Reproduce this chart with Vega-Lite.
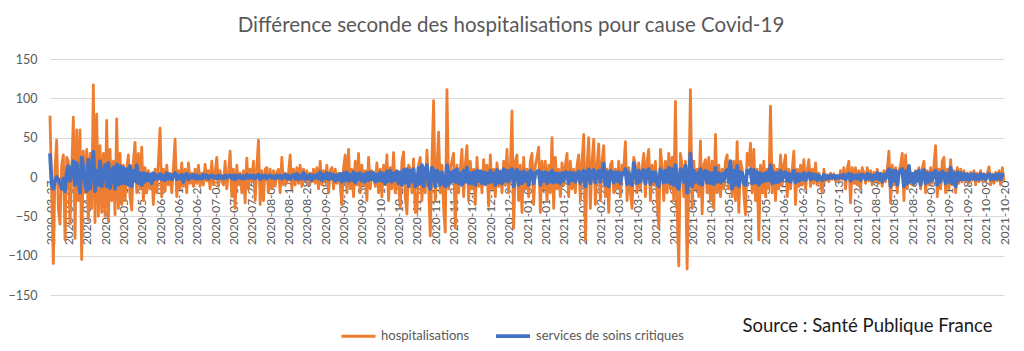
{
"$schema": "https://vega.github.io/schema/vega-lite/v6.json",
"width": 954, "height": 236,
"autosize": {"type": "none"},
"padding": {"left": 50, "top": 59, "right": 20, "bottom": 56},
"background": "white",
"config": {"view": {"stroke": null}, "font": "Lato"},
"title": {"text": "Différence seconde des hospitalisations pour cause Covid-19", "fontSize": 20.5, "font": "Lato", "fontWeight": "normal", "color": "#595959", "anchor": "middle", "frame": "group", "dx": -16, "offset": 17},
"data": {"values": [
{"d":"2020-03-27","h":78,"s":30},{"d":"2020-03-28","h":-20,"s":-10},{"d":"2020-03-29","h":-110,"s":-15},{"d":"2020-03-30","h":10,"s":-5},{"d":"2020-03-31","h":47,"s":0},{"d":"2020-04-01","h":-40,"s":-3},{"d":"2020-04-02","h":-60,"s":-8},{"d":"2020-04-03","h":15,"s":-15},{"d":"2020-04-04","h":28,"s":-2},{"d":"2020-04-05","h":-80,"s":-18},{"d":"2020-04-06","h":25,"s":5},
{"d":"2020-04-07","h":20,"s":14},{"d":"2020-04-08","h":-60,"s":-5},{"d":"2020-04-09","h":5,"s":8},{"d":"2020-04-10","h":76,"s":20},{"d":"2020-04-11","h":-78,"s":-10},{"d":"2020-04-12","h":60,"s":18},{"d":"2020-04-13","h":-30,"s":-5},{"d":"2020-04-14","h":60,"s":-20},{"d":"2020-04-15","h":-105,"s":25},{"d":"2020-04-16","h":33,"s":12},{"d":"2020-04-17","h":-20,"s":-8},
{"d":"2020-04-18","h":35,"s":-18},{"d":"2020-04-19","h":-55,"s":22},{"d":"2020-04-20","h":30,"s":-15},{"d":"2020-04-21","h":-40,"s":10},{"d":"2020-04-22","h":117,"s":32},{"d":"2020-04-23","h":-58,"s":-18},{"d":"2020-04-24","h":80,"s":8},{"d":"2020-04-25","h":-50,"s":-10},{"d":"2020-04-26","h":40,"s":20},{"d":"2020-04-27","h":-45,"s":-12},{"d":"2020-04-28","h":30,"s":5},
{"d":"2020-04-29","h":-50,"s":15},{"d":"2020-04-30","h":72,"s":-12},{"d":"2020-05-01","h":-56,"s":18},{"d":"2020-05-02","h":35,"s":-14},{"d":"2020-05-03","h":-30,"s":5},{"d":"2020-05-04","h":20,"s":12},{"d":"2020-05-05","h":-48,"s":-15},{"d":"2020-05-06","h":74,"s":16},{"d":"2020-05-07","h":-40,"s":-10},{"d":"2020-05-08","h":30,"s":14},{"d":"2020-05-09","h":-35,"s":-8},
{"d":"2020-05-10","h":15,"s":12},{"d":"2020-05-11","h":-30,"s":-8},{"d":"2020-05-12","h":10,"s":10},{"d":"2020-05-13","h":28,"s":-10},{"d":"2020-05-14","h":-25,"s":14},{"d":"2020-05-15","h":-42,"s":-12},{"d":"2020-05-16","h":20,"s":8},{"d":"2020-05-17","h":44,"s":-5},{"d":"2020-05-18","h":-20,"s":15},{"d":"2020-05-19","h":30,"s":-8},{"d":"2020-05-20","h":-15,"s":5},
{"d":"2020-05-21","h":38,"s":-10},{"d":"2020-05-22","h":-30,"s":5},{"d":"2020-05-23","h":12,"s":-6},{"d":"2020-05-24","h":-20,"s":4},{"d":"2020-05-25","h":8,"s":-4},{"d":"2020-05-26","h":-15,"s":3},{"d":"2020-05-27","h":5,"s":-8},{"d":"2020-05-28","h":-35,"s":5},{"d":"2020-05-29","h":10,"s":-3},{"d":"2020-05-30","h":-20,"s":2},{"d":"2020-05-31","h":20,"s":-2},
{"d":"2020-06-01","h":62,"s":4},{"d":"2020-06-02","h":-25,"s":-3},{"d":"2020-06-03","h":10,"s":2},{"d":"2020-06-04","h":-18,"s":-4},{"d":"2020-06-05","h":15,"s":5},{"d":"2020-06-06","h":-10,"s":-2},{"d":"2020-06-07","h":5,"s":3},{"d":"2020-06-08","h":-20,"s":-3},{"d":"2020-06-09","h":12,"s":2},{"d":"2020-06-10","h":48,"s":5},{"d":"2020-06-11","h":-25,"s":-3},
{"d":"2020-06-12","h":8,"s":2},{"d":"2020-06-13","h":-15,"s":-2},{"d":"2020-06-14","h":18,"s":3},{"d":"2020-06-15","h":-12,"s":-6},{"d":"2020-06-16","h":10,"s":2},{"d":"2020-06-17","h":-20,"s":4},{"d":"2020-06-18","h":18,"s":-3},{"d":"2020-06-19","h":-8,"s":2},{"d":"2020-06-20","h":5,"s":-1},{"d":"2020-06-21","h":-12,"s":3},{"d":"2020-06-22","h":10,"s":-2},
{"d":"2020-06-23","h":-8,"s":2},{"d":"2020-06-24","h":15,"s":-2},{"d":"2020-06-25","h":-12,"s":1},{"d":"2020-06-26","h":5,"s":-2},{"d":"2020-06-27","h":-10,"s":3},{"d":"2020-06-28","h":16,"s":-1},{"d":"2020-06-29","h":-5,"s":2},{"d":"2020-06-30","h":8,"s":-2},{"d":"2020-07-01","h":-15,"s":1},{"d":"2020-07-02","h":20,"s":2},{"d":"2020-07-03","h":-10,"s":-1},
{"d":"2020-07-04","h":5,"s":1},{"d":"2020-07-05","h":25,"s":-2},{"d":"2020-07-06","h":-12,"s":2},{"d":"2020-07-07","h":8,"s":-1},{"d":"2020-07-08","h":-5,"s":1},{"d":"2020-07-09","h":-10,"s":-2},{"d":"2020-07-10","h":20,"s":2},{"d":"2020-07-11","h":-15,"s":-1},{"d":"2020-07-12","h":5,"s":1},{"d":"2020-07-13","h":33,"s":2},{"d":"2020-07-14","h":-25,"s":-2},
{"d":"2020-07-15","h":10,"s":2},{"d":"2020-07-16","h":-40,"s":-3},{"d":"2020-07-17","h":15,"s":2},{"d":"2020-07-18","h":-10,"s":-1},{"d":"2020-07-19","h":5,"s":2},{"d":"2020-07-20","h":-20,"s":-2},{"d":"2020-07-21","h":8,"s":1},{"d":"2020-07-22","h":-33,"s":-2},{"d":"2020-07-23","h":24,"s":3},{"d":"2020-07-24","h":-15,"s":-1},{"d":"2020-07-25","h":10,"s":2},
{"d":"2020-07-26","h":-5,"s":-1},{"d":"2020-07-27","h":20,"s":2},{"d":"2020-07-28","h":-30,"s":-2},{"d":"2020-07-29","h":12,"s":1},{"d":"2020-07-30","h":47,"s":3},{"d":"2020-07-31","h":-35,"s":-3},{"d":"2020-08-01","h":8,"s":2},{"d":"2020-08-02","h":-30,"s":-1},{"d":"2020-08-03","h":10,"s":2},{"d":"2020-08-04","h":12,"s":-2},{"d":"2020-08-05","h":-20,"s":1},
{"d":"2020-08-06","h":10,"s":2},{"d":"2020-08-07","h":-15,"s":-1},{"d":"2020-08-08","h":8,"s":1},{"d":"2020-08-09","h":-12,"s":-2},{"d":"2020-08-10","h":6,"s":2},{"d":"2020-08-11","h":10,"s":-1},{"d":"2020-08-12","h":-20,"s":2},{"d":"2020-08-13","h":25,"s":-2},{"d":"2020-08-14","h":-10,"s":1},{"d":"2020-08-15","h":5,"s":3},{"d":"2020-08-16","h":-8,"s":-2},
{"d":"2020-08-17","h":5,"s":2},{"d":"2020-08-18","h":28,"s":-3},{"d":"2020-08-19","h":-15,"s":1},{"d":"2020-08-20","h":10,"s":3},{"d":"2020-08-21","h":-10,"s":-2},{"d":"2020-08-22","h":12,"s":4},{"d":"2020-08-23","h":-8,"s":-3},{"d":"2020-08-24","h":15,"s":2},{"d":"2020-08-25","h":-12,"s":-2},{"d":"2020-08-26","h":10,"s":5},{"d":"2020-08-27","h":-5,"s":-3},
{"d":"2020-08-28","h":8,"s":2},{"d":"2020-08-29","h":-10,"s":-2},{"d":"2020-08-30","h":5,"s":3},{"d":"2020-08-31","h":-6,"s":-4},{"d":"2020-09-01","h":10,"s":2},{"d":"2020-09-02","h":-8,"s":-1},{"d":"2020-09-03","h":12,"s":3},{"d":"2020-09-04","h":-15,"s":-2},{"d":"2020-09-05","h":20,"s":6},{"d":"2020-09-06","h":-10,"s":-4},{"d":"2020-09-07","h":8,"s":3},
{"d":"2020-09-08","h":-5,"s":-2},{"d":"2020-09-09","h":15,"s":5},{"d":"2020-09-10","h":-20,"s":-3},{"d":"2020-09-11","h":8,"s":4},{"d":"2020-09-12","h":12,"s":-2},{"d":"2020-09-13","h":-15,"s":3},{"d":"2020-09-14","h":10,"s":-5},{"d":"2020-09-15","h":-8,"s":2},{"d":"2020-09-16","h":5,"s":-3},{"d":"2020-09-17","h":-10,"s":4},{"d":"2020-09-18","h":-35,"s":-6},
{"d":"2020-09-19","h":12,"s":5},{"d":"2020-09-20","h":28,"s":-4},{"d":"2020-09-21","h":-20,"s":6},{"d":"2020-09-22","h":35,"s":-5},{"d":"2020-09-23","h":-15,"s":3},{"d":"2020-09-24","h":10,"s":-4},{"d":"2020-09-25","h":-25,"s":6},{"d":"2020-09-26","h":20,"s":-7},{"d":"2020-09-27","h":-10,"s":4},{"d":"2020-09-28","h":30,"s":-3},{"d":"2020-09-29","h":-20,"s":5},
{"d":"2020-09-30","h":15,"s":-5},{"d":"2020-10-01","h":-10,"s":3},{"d":"2020-10-02","h":8,"s":-6},{"d":"2020-10-03","h":-30,"s":5},{"d":"2020-10-04","h":25,"s":-4},{"d":"2020-10-05","h":-15,"s":6},{"d":"2020-10-06","h":8,"s":-3},{"d":"2020-10-07","h":5,"s":5},{"d":"2020-10-08","h":-12,"s":-6},{"d":"2020-10-09","h":18,"s":3},{"d":"2020-10-10","h":-20,"s":-4},
{"d":"2020-10-11","h":10,"s":6},{"d":"2020-10-12","h":-25,"s":-5},{"d":"2020-10-13","h":15,"s":4},{"d":"2020-10-14","h":-10,"s":-8},{"d":"2020-10-15","h":28,"s":7},{"d":"2020-10-16","h":-30,"s":-5},{"d":"2020-10-17","h":12,"s":8},{"d":"2020-10-18","h":-15,"s":-6},{"d":"2020-10-19","h":31,"s":5},{"d":"2020-10-20","h":-20,"s":-4},{"d":"2020-10-21","h":8,"s":7},
{"d":"2020-10-22","h":-10,"s":-8},{"d":"2020-10-23","h":-38,"s":6},{"d":"2020-10-24","h":20,"s":-10},{"d":"2020-10-25","h":32,"s":9},{"d":"2020-10-26","h":-25,"s":-7},{"d":"2020-10-27","h":-47,"s":10},{"d":"2020-10-28","h":15,"s":-12},{"d":"2020-10-29","h":10,"s":8},{"d":"2020-10-30","h":-20,"s":-6},{"d":"2020-10-31","h":23,"s":10},{"d":"2020-11-01","h":-45,"s":-12},
{"d":"2020-11-02","h":-45,"s":-10},{"d":"2020-11-03","h":15,"s":12},{"d":"2020-11-04","h":25,"s":-8},{"d":"2020-11-05","h":-30,"s":15},{"d":"2020-11-06","h":12,"s":-12},{"d":"2020-11-07","h":-20,"s":10},{"d":"2020-11-08","h":34,"s":15},{"d":"2020-11-09","h":-10,"s":-10},{"d":"2020-11-10","h":-75,"s":-15},{"d":"2020-11-11","h":20,"s":12},{"d":"2020-11-12","h":97,"s":8},
{"d":"2020-11-13","h":-30,"s":-12},{"d":"2020-11-14","h":10,"s":8},{"d":"2020-11-15","h":57,"s":5},{"d":"2020-11-16","h":-20,"s":-10},{"d":"2020-11-17","h":15,"s":6},{"d":"2020-11-18","h":-40,"s":-8},{"d":"2020-11-19","h":-70,"s":-12},{"d":"2020-11-20","h":111,"s":15},{"d":"2020-11-21","h":-15,"s":-10},{"d":"2020-11-22","h":10,"s":6},{"d":"2020-11-23","h":20,"s":-5},
{"d":"2020-11-24","h":30,"s":8},{"d":"2020-11-25","h":-65,"s":-6},{"d":"2020-11-26","h":15,"s":10},{"d":"2020-11-27","h":-20,"s":-8},{"d":"2020-11-28","h":10,"s":5},{"d":"2020-11-29","h":35,"s":-10},{"d":"2020-11-30","h":-25,"s":8},{"d":"2020-12-01","h":15,"s":-6},{"d":"2020-12-02","h":40,"s":12},{"d":"2020-12-03","h":-30,"s":-8},{"d":"2020-12-04","h":20,"s":5},
{"d":"2020-12-05","h":-15,"s":-8},{"d":"2020-12-06","h":10,"s":6},{"d":"2020-12-07","h":-35,"s":-10},{"d":"2020-12-08","h":25,"s":8},{"d":"2020-12-09","h":-12,"s":-5},{"d":"2020-12-10","h":8,"s":7},{"d":"2020-12-11","h":-20,"s":-8},{"d":"2020-12-12","h":22,"s":6},{"d":"2020-12-13","h":-10,"s":-9},{"d":"2020-12-14","h":15,"s":5},{"d":"2020-12-15","h":-37,"s":-7},
{"d":"2020-12-16","h":28,"s":8},{"d":"2020-12-17","h":-15,"s":-6},{"d":"2020-12-18","h":10,"s":5},{"d":"2020-12-19","h":-25,"s":-10},{"d":"2020-12-20","h":18,"s":9},{"d":"2020-12-21","h":-12,"s":-7},{"d":"2020-12-22","h":8,"s":6},{"d":"2020-12-23","h":-20,"s":-8},{"d":"2020-12-24","h":20,"s":10},{"d":"2020-12-25","h":-10,"s":-5},{"d":"2020-12-26","h":35,"s":8},
{"d":"2020-12-27","h":-20,"s":-6},{"d":"2020-12-28","h":10,"s":8},{"d":"2020-12-29","h":84,"s":10},{"d":"2020-12-30","h":-65,"s":-12},{"d":"2020-12-31","h":20,"s":7},{"d":"2021-01-01","h":28,"s":9},{"d":"2021-01-02","h":-30,"s":-10},{"d":"2021-01-03","h":15,"s":6},{"d":"2021-01-04","h":-45,"s":-8},{"d":"2021-01-05","h":25,"s":7},{"d":"2021-01-06","h":-15,"s":-5},
{"d":"2021-01-07","h":10,"s":5},{"d":"2021-01-08","h":-25,"s":-10},{"d":"2021-01-09","h":20,"s":8},{"d":"2021-01-10","h":30,"s":6},{"d":"2021-01-11","h":-35,"s":-8},{"d":"2021-01-12","h":15,"s":5},{"d":"2021-01-13","h":25,"s":6},{"d":"2021-01-14","h":38,"s":8},{"d":"2021-01-15","h":-45,"s":-10},{"d":"2021-01-16","h":20,"s":6},{"d":"2021-01-17","h":-15,"s":-5},
{"d":"2021-01-18","h":20,"s":6},{"d":"2021-01-19","h":-30,"s":-8},{"d":"2021-01-20","h":15,"s":5},{"d":"2021-01-21","h":-20,"s":-6},{"d":"2021-01-22","h":50,"s":8},{"d":"2021-01-23","h":-40,"s":-7},{"d":"2021-01-24","h":25,"s":5},{"d":"2021-01-25","h":-15,"s":-6},{"d":"2021-01-26","h":10,"s":4},{"d":"2021-01-27","h":-25,"s":-8},{"d":"2021-01-28","h":18,"s":5},
{"d":"2021-01-29","h":-10,"s":-5},{"d":"2021-01-30","h":15,"s":6},{"d":"2021-01-31","h":30,"s":5},{"d":"2021-02-01","h":-25,"s":-8},{"d":"2021-02-02","h":20,"s":6},{"d":"2021-02-03","h":-15,"s":-4},{"d":"2021-02-04","h":10,"s":5},{"d":"2021-02-05","h":-20,"s":-6},{"d":"2021-02-06","h":15,"s":4},{"d":"2021-02-07","h":28,"s":7},{"d":"2021-02-08","h":-30,"s":-8},
{"d":"2021-02-09","h":20,"s":5},{"d":"2021-02-10","h":54,"s":8},{"d":"2021-02-11","h":-80,"s":-12},{"d":"2021-02-12","h":15,"s":6},{"d":"2021-02-13","h":50,"s":10},{"d":"2021-02-14","h":-40,"s":-8},{"d":"2021-02-15","h":20,"s":6},{"d":"2021-02-16","h":48,"s":9},{"d":"2021-02-17","h":-35,"s":-7},{"d":"2021-02-18","h":15,"s":5},{"d":"2021-02-19","h":42,"s":8},
{"d":"2021-02-20","h":-30,"s":-6},{"d":"2021-02-21","h":20,"s":8},{"d":"2021-02-22","h":40,"s":17},{"d":"2021-02-23","h":-25,"s":-10},{"d":"2021-02-24","h":10,"s":6},{"d":"2021-02-25","h":-45,"s":-12},{"d":"2021-02-26","h":15,"s":8},{"d":"2021-02-27","h":20,"s":5},{"d":"2021-02-28","h":-20,"s":-7},{"d":"2021-03-01","h":10,"s":6},{"d":"2021-03-02","h":-15,"s":-5},
{"d":"2021-03-03","h":20,"s":6},{"d":"2021-03-04","h":-25,"s":-8},{"d":"2021-03-05","h":15,"s":5},{"d":"2021-03-06","h":10,"s":4},{"d":"2021-03-07","h":45,"s":10},{"d":"2021-03-08","h":-30,"s":-9},{"d":"2021-03-09","h":12,"s":6},{"d":"2021-03-10","h":-20,"s":-8},{"d":"2021-03-11","h":-40,"s":-10},{"d":"2021-03-12","h":25,"s":18},{"d":"2021-03-13","h":15,"s":5},
{"d":"2021-03-14","h":-20,"s":-8},{"d":"2021-03-15","h":18,"s":8},{"d":"2021-03-16","h":-15,"s":-6},{"d":"2021-03-17","h":10,"s":5},{"d":"2021-03-18","h":30,"s":9},{"d":"2021-03-19","h":-25,"s":-8},{"d":"2021-03-20","h":20,"s":7},{"d":"2021-03-21","h":35,"s":10},{"d":"2021-03-22","h":-30,"s":-9},{"d":"2021-03-23","h":15,"s":6},{"d":"2021-03-24","h":-10,"s":-5},
{"d":"2021-03-25","h":20,"s":6},{"d":"2021-03-26","h":-25,"s":-8},{"d":"2021-03-27","h":-65,"s":-12},{"d":"2021-03-28","h":35,"s":10},{"d":"2021-03-29","h":15,"s":5},{"d":"2021-03-30","h":-30,"s":-7},{"d":"2021-03-31","h":20,"s":8},{"d":"2021-04-01","h":-20,"s":-6},{"d":"2021-04-02","h":30,"s":12},{"d":"2021-04-03","h":-15,"s":-8},{"d":"2021-04-04","h":25,"s":10},
{"d":"2021-04-05","h":-30,"s":-10},{"d":"2021-04-06","h":96,"s":15},{"d":"2021-04-07","h":-40,"s":-12},{"d":"2021-04-08","h":-113,"s":-15},{"d":"2021-04-09","h":30,"s":10},{"d":"2021-04-10","h":15,"s":8},{"d":"2021-04-11","h":-25,"s":-6},{"d":"2021-04-12","h":20,"s":14},{"d":"2021-04-13","h":-117,"s":-20},{"d":"2021-04-14","h":-10,"s":-5},{"d":"2021-04-15","h":111,"s":30},
{"d":"2021-04-16","h":-40,"s":-12},{"d":"2021-04-17","h":20,"s":8},{"d":"2021-04-18","h":-15,"s":-6},{"d":"2021-04-19","h":10,"s":5},{"d":"2021-04-20","h":-25,"s":-8},{"d":"2021-04-21","h":46,"s":10},{"d":"2021-04-22","h":-47,"s":-10},{"d":"2021-04-23","h":15,"s":6},{"d":"2021-04-24","h":22,"s":8},{"d":"2021-04-25","h":-20,"s":-7},{"d":"2021-04-26","h":25,"s":6},
{"d":"2021-04-27","h":-30,"s":-8},{"d":"2021-04-28","h":20,"s":5},{"d":"2021-04-29","h":-40,"s":-9},{"d":"2021-04-30","h":54,"s":12},{"d":"2021-05-01","h":-20,"s":-6},{"d":"2021-05-02","h":15,"s":5},{"d":"2021-05-03","h":-25,"s":-7},{"d":"2021-05-04","h":10,"s":4},{"d":"2021-05-05","h":-15,"s":-5},{"d":"2021-05-06","h":20,"s":6},{"d":"2021-05-07","h":28,"s":9},
{"d":"2021-05-08","h":-15,"s":-6},{"d":"2021-05-09","h":10,"s":20},{"d":"2021-05-10","h":-25,"s":-15},{"d":"2021-05-11","h":20,"s":8},{"d":"2021-05-12","h":-30,"s":-10},{"d":"2021-05-13","h":45,"s":14},{"d":"2021-05-14","h":-45,"s":-12},{"d":"2021-05-15","h":20,"s":6},{"d":"2021-05-16","h":10,"s":5},{"d":"2021-05-17","h":-20,"s":-8},{"d":"2021-05-18","h":-48,"s":-10},
{"d":"2021-05-19","h":30,"s":8},{"d":"2021-05-20","h":15,"s":5},{"d":"2021-05-21","h":43,"s":10},{"d":"2021-05-22","h":-20,"s":-8},{"d":"2021-05-23","h":35,"s":9},{"d":"2021-05-24","h":-30,"s":-7},{"d":"2021-05-25","h":10,"s":6},{"d":"2021-05-26","h":-80,"s":-10},{"d":"2021-05-27","h":15,"s":5},{"d":"2021-05-28","h":-20,"s":-6},{"d":"2021-05-29","h":20,"s":4},
{"d":"2021-05-30","h":-25,"s":-5},{"d":"2021-05-31","h":10,"s":6},{"d":"2021-06-01","h":-15,"s":-4},{"d":"2021-06-02","h":90,"s":15},{"d":"2021-06-03","h":-20,"s":-8},{"d":"2021-06-04","h":15,"s":6},{"d":"2021-06-05","h":-30,"s":-7},{"d":"2021-06-06","h":10,"s":5},{"d":"2021-06-07","h":-15,"s":-6},{"d":"2021-06-08","h":28,"s":8},{"d":"2021-06-09","h":-10,"s":-4},
{"d":"2021-06-10","h":15,"s":5},{"d":"2021-06-11","h":28,"s":6},{"d":"2021-06-12","h":-25,"s":-5},{"d":"2021-06-13","h":10,"s":4},{"d":"2021-06-14","h":-15,"s":-6},{"d":"2021-06-15","h":8,"s":3},{"d":"2021-06-16","h":33,"s":8},{"d":"2021-06-17","h":-35,"s":-7},{"d":"2021-06-18","h":10,"s":4},{"d":"2021-06-19","h":-12,"s":-5},{"d":"2021-06-20","h":15,"s":3},
{"d":"2021-06-21","h":-10,"s":-3},{"d":"2021-06-22","h":22,"s":5},{"d":"2021-06-23","h":-15,"s":-4},{"d":"2021-06-24","h":8,"s":3},{"d":"2021-06-25","h":22,"s":5},{"d":"2021-06-26","h":-12,"s":-3},{"d":"2021-06-27","h":10,"s":4},{"d":"2021-06-28","h":-8,"s":-2},{"d":"2021-06-29","h":18,"s":3},{"d":"2021-06-30","h":-10,"s":-4},{"d":"2021-07-01","h":5,"s":2},
{"d":"2021-07-02","h":-8,"s":-2},{"d":"2021-07-03","h":-20,"s":-4},{"d":"2021-07-04","h":10,"s":3},{"d":"2021-07-05","h":-5,"s":-2},{"d":"2021-07-06","h":3,"s":1},{"d":"2021-07-07","h":-6,"s":-2},{"d":"2021-07-08","h":5,"s":2},{"d":"2021-07-09","h":-3,"s":-1},{"d":"2021-07-10","h":4,"s":2},{"d":"2021-07-11","h":-5,"s":-2},{"d":"2021-07-12","h":2,"s":1},
{"d":"2021-07-13","h":-5,"s":-1},{"d":"2021-07-14","h":8,"s":2},{"d":"2021-07-15","h":-3,"s":-1},{"d":"2021-07-16","h":12,"s":3},{"d":"2021-07-17","h":-15,"s":-3},{"d":"2021-07-18","h":10,"s":2},{"d":"2021-07-19","h":20,"s":4},{"d":"2021-07-20","h":-33,"s":-5},{"d":"2021-07-21","h":12,"s":3},{"d":"2021-07-22","h":-8,"s":-2},{"d":"2021-07-23","h":12,"s":2},
{"d":"2021-07-24","h":-10,"s":-2},{"d":"2021-07-25","h":8,"s":3},{"d":"2021-07-26","h":-15,"s":-4},{"d":"2021-07-27","h":12,"s":3},{"d":"2021-07-28","h":5,"s":2},{"d":"2021-07-29","h":-8,"s":-3},{"d":"2021-07-30","h":12,"s":4},{"d":"2021-07-31","h":-5,"s":-2},{"d":"2021-08-01","h":8,"s":3},{"d":"2021-08-02","h":-10,"s":-4},{"d":"2021-08-03","h":6,"s":2},
{"d":"2021-08-04","h":-5,"s":-2},{"d":"2021-08-05","h":10,"s":5},{"d":"2021-08-06","h":-8,"s":-3},{"d":"2021-08-07","h":5,"s":4},{"d":"2021-08-08","h":-12,"s":-6},{"d":"2021-08-09","h":8,"s":3},{"d":"2021-08-10","h":-6,"s":-2},{"d":"2021-08-11","h":10,"s":6},{"d":"2021-08-12","h":33,"s":10},{"d":"2021-08-13","h":-33,"s":-12},{"d":"2021-08-14","h":15,"s":8},
{"d":"2021-08-15","h":-10,"s":-5},{"d":"2021-08-16","h":12,"s":8},{"d":"2021-08-17","h":-20,"s":-10},{"d":"2021-08-18","h":8,"s":6},{"d":"2021-08-19","h":15,"s":8},{"d":"2021-08-20","h":30,"s":10},{"d":"2021-08-21","h":-30,"s":-12},{"d":"2021-08-22","h":28,"s":7},{"d":"2021-08-23","h":-15,"s":-8},{"d":"2021-08-24","h":10,"s":14},{"d":"2021-08-25","h":-8,"s":-6},
{"d":"2021-08-26","h":5,"s":4},{"d":"2021-08-27","h":-10,"s":-8},{"d":"2021-08-28","h":8,"s":6},{"d":"2021-08-29","h":-5,"s":-5},{"d":"2021-08-30","h":12,"s":8},{"d":"2021-08-31","h":-15,"s":-10},{"d":"2021-09-01","h":10,"s":6},{"d":"2021-09-02","h":20,"s":9},{"d":"2021-09-03","h":-20,"s":-8},{"d":"2021-09-04","h":8,"s":5},{"d":"2021-09-05","h":-10,"s":-6},
{"d":"2021-09-06","h":12,"s":5},{"d":"2021-09-07","h":-8,"s":-4},{"d":"2021-09-08","h":15,"s":6},{"d":"2021-09-09","h":40,"s":8},{"d":"2021-09-10","h":-25,"s":-10},{"d":"2021-09-11","h":10,"s":5},{"d":"2021-09-12","h":-15,"s":-6},{"d":"2021-09-13","h":20,"s":7},{"d":"2021-09-14","h":25,"s":5},{"d":"2021-09-15","h":-20,"s":-8},{"d":"2021-09-16","h":10,"s":4},
{"d":"2021-09-17","h":-15,"s":-6},{"d":"2021-09-18","h":22,"s":12},{"d":"2021-09-19","h":-10,"s":-8},{"d":"2021-09-20","h":8,"s":5},{"d":"2021-09-21","h":-20,"s":-12},{"d":"2021-09-22","h":12,"s":6},{"d":"2021-09-23","h":-8,"s":-4},{"d":"2021-09-24","h":10,"s":5},{"d":"2021-09-25","h":-6,"s":-3},{"d":"2021-09-26","h":8,"s":4},{"d":"2021-09-27","h":-5,"s":-3},
{"d":"2021-09-28","h":5,"s":3},{"d":"2021-09-29","h":-8,"s":-4},{"d":"2021-09-30","h":6,"s":3},{"d":"2021-10-01","h":-4,"s":-2},{"d":"2021-10-02","h":8,"s":4},{"d":"2021-10-03","h":-10,"s":-3},{"d":"2021-10-04","h":5,"s":2},{"d":"2021-10-05","h":-6,"s":-3},{"d":"2021-10-06","h":8,"s":4},{"d":"2021-10-07","h":-5,"s":-2},{"d":"2021-10-08","h":4,"s":3},
{"d":"2021-10-09","h":-6,"s":-3},{"d":"2021-10-10","h":5,"s":2},{"d":"2021-10-11","h":13,"s":4},{"d":"2021-10-12","h":-10,"s":-3},{"d":"2021-10-13","h":4,"s":2},{"d":"2021-10-14","h":-8,"s":-3},{"d":"2021-10-15","h":6,"s":3},{"d":"2021-10-16","h":-5,"s":-2},{"d":"2021-10-17","h":8,"s":4},{"d":"2021-10-18","h":-10,"s":-3},{"d":"2021-10-19","h":12,"s":3},
{"d":"2021-10-20","h":-5,"s":2}
]},
"transform": [{"fold": ["h", "s"], "as": ["serie", "val"]}],
"mark": {"type": "line", "strokeJoin": "round"},
"encoding": {
"x": {"field": "d", "type": "temporal", "scale": {"type": "utc", "nice": false},
 "axis": {"title": "Source : Santé Publique France", "titleX": 942, "titleY": 149, "titleAlign": "right", "titleBaseline": "middle", "titleFontSize": 18.5, "titleFont": "Lato", "titleFontWeight": "normal", "titleColor": "#1a1a1a",
 "offset": -119, "domain": false, "ticks": false, "grid": false, "labelAngle": -90, "labelAlign": "right", "labelBaseline": "middle", "labelPadding": 4, "labelFontSize": 12, "labelFont": "Lato", "labelColor": "#595959", "labelOverlap": false, "labelBound": false, "labelFlush": false, "zindex": 0,
 "tickCount": {"interval": "day", "step": 1},
 "labelExpr": "round((datum.value - 1585267200000) / 86400000) % 11 == 0 ? utcFormat(datum.value, '%Y-%m-%d') : ''"}},
"y": {"field": "val", "type": "quantitative", "scale": {"domain": [-150, 150], "nice": false},
 "axis": {"title": null, "values": [-150, -100, -50, 0, 50, 100, 150], "domain": false, "ticks": false, "gridColor": "#d9d9d9", "gridWidth": 1, "labelFontSize": 12.5, "labelFont": "Lato", "labelColor": "#595959", "labelPadding": 13}},
"color": {"field": "serie", "type": "nominal", "scale": {"domain": ["h", "s"], "range": ["#ED7D31", "#4472C4"]},
 "legend": {"title": null, "orient": "none", "legendX": 290, "legendY": 258, "direction": "horizontal", "symbolType": "stroke", "symbolSize": 1156, "symbolStrokeWidth": 4, "labelFontSize": 13, "labelFont": "Lato", "labelColor": "#595959", "columnPadding": 18, "labelExpr": "datum.label == 'h' ? 'hospitalisations' : 'services de soins critiques'"}},
"strokeWidth": {"field": "serie", "type": "nominal", "scale": {"domain": ["h", "s"], "range": [2.8, 3.8]}, "legend": null}
}
}
